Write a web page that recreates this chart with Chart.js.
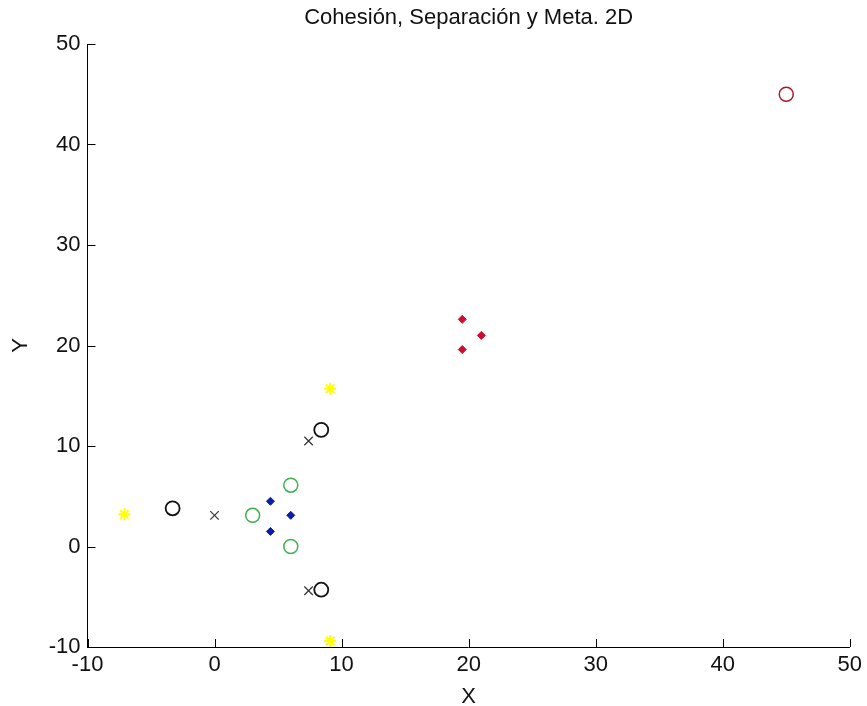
<!DOCTYPE html>
<html>
<head>
<meta charset="utf-8">
<script src="https://cdn.jsdelivr.net/npm/chart.js@4"></script>
<style>
  body { margin: 0; background: #fff; }
</style>
</head>
<body>
<canvas id="grafica" width="867" height="706"></canvas>
<script>
// datos
var xTicks = [-10, 0, 10, 20, 30, 40, 50];
var yTicks = [-10, 0, 10, 20, 30, 40, 50];

var metaX = [45];
var metaY = [45];

var rojoX = [19.5, 21, 19.5];
var rojoY = [22.6, 21, 19.6];

var azulX = [4.4, 6, 4.4];
var azulY = [4.5, 3.1, 1.5];

var verdeX = [6, 3, 6];
var verdeY = [6.1, 3.1, 0];

var negroX = [8.4, -3.3, 8.4];
var negroY = [11.6, 3.8, -4.3];

var cruzX = [7.4, 0, 7.4];
var cruzY = [10.5, 3.1, -4.4];

var estrellaX = [9.1, -7.1, 9.1];
var estrellaY = [15.7, 3.2, -9.4];

function puntos(xs, ys) {
    return xs.map(function (x, i) { return { x: x, y: ys[i] }; });
}

var fuente = "'Liberation Sans', Arial, sans-serif";

// marcas de los ejes hacia adentro, como en MATLAB
var marcasAdentro = {
    id: 'marcasAdentro',
    afterDraw: function (chart) {
        var ctx = chart.ctx;
        var area = chart.chartArea;
        var sx = chart.scales.x;
        var sy = chart.scales.y;
        ctx.save();
        ctx.strokeStyle = '#000';
        ctx.lineWidth = 1;
        ctx.beginPath();
        xTicks.forEach(function (v) {
            var px = Math.round(sx.getPixelForValue(v)) + 0.5;
            ctx.moveTo(px, area.bottom);
            ctx.lineTo(px, area.bottom - 8);
        });
        yTicks.forEach(function (v) {
            var py = Math.round(sy.getPixelForValue(v)) + 0.5;
            ctx.moveTo(area.left, py);
            ctx.lineTo(area.left + 8, py);
        });
        ctx.stroke();
        ctx.restore();
    }
};

var ctx = document.getElementById('grafica').getContext('2d');
var chart = new Chart(ctx, {
    type: 'scatter',
    data: {
        datasets: [{
            label: 'meta',
            data: puntos(metaX, metaY),
            pointStyle: 'circle',
            pointRadius: 7,
            borderColor: '#a81828',
            backgroundColor: 'rgba(0,0,0,0)',
            borderWidth: 1.5
        }, {
            label: 'rojo',
            data: puntos(rojoX, rojoY),
            pointStyle: 'rectRot',
            pointRadius: 4,
            borderColor: '#c8102e',
            backgroundColor: '#c8102e',
            borderWidth: 1
        }, {
            label: 'azul',
            data: puntos(azulX, azulY),
            pointStyle: 'rectRot',
            pointRadius: 4,
            borderColor: '#0a1fa8',
            backgroundColor: '#0a1fa8',
            borderWidth: 1
        }, {
            label: 'verde',
            data: puntos(verdeX, verdeY),
            pointStyle: 'circle',
            pointRadius: 7,
            borderColor: '#3fb04a',
            backgroundColor: 'rgba(0,0,0,0)',
            borderWidth: 1.5
        }, {
            label: 'negro',
            data: puntos(negroX, negroY),
            pointStyle: 'circle',
            pointRadius: 7,
            borderColor: '#111',
            backgroundColor: 'rgba(0,0,0,0)',
            borderWidth: 1.8
        }, {
            label: 'cruz',
            data: puntos(cruzX, cruzY),
            pointStyle: 'crossRot',
            pointRadius: 6,
            borderColor: '#333',
            borderWidth: 1.2
        }, {
            label: 'estrella',
            data: puntos(estrellaX, estrellaY),
            pointStyle: 'star',
            pointRadius: 6,
            borderColor: '#ffff00',
            backgroundColor: '#ffff00',
            borderWidth: 2
        }]
    },
    options: {
        responsive: false,
        animation: false,
        events: [],
        layout: {
            padding: { left: 0, right: 15, top: 0, bottom: 0 }
        },
        plugins: {
            legend: { display: false },
            tooltip: { enabled: false },
            title: {
                display: true,
                fullSize: false,
                text: 'Cohesión, Separación y Meta. 2D',
                color: '#111',
                font: { family: fuente, size: 22, weight: 'normal', lineHeight: 1.2 },
                padding: { top: 5, bottom: 12.6 }
            }
        },
        scales: {
            x: {
                type: 'linear',
                min: -10,
                max: 50,
                afterFit: function (scale) { scale.height = 59; },
                afterBuildTicks: function (scale) {
                    scale.ticks = xTicks.map(function (v) { return { value: v }; });
                },
                grid: { display: false, drawTicks: false },
                border: { display: true, color: '#000', width: 1 },
                ticks: {
                    color: '#111',
                    padding: 5,
                    maxRotation: 0,
                    autoSkip: false,
                    font: { family: fuente, size: 22, lineHeight: 1.2 }
                },
                title: {
                    display: true,
                    text: 'X',
                    color: '#111',
                    font: { family: fuente, size: 22, lineHeight: 0.8 },
                    padding: { top: 0, bottom: 0 }
                }
            },
            y: {
                type: 'linear',
                min: -10,
                max: 50,
                afterFit: function (scale) { scale.width = 87.5; },
                afterBuildTicks: function (scale) {
                    scale.ticks = yTicks.map(function (v) { return { value: v }; });
                },
                grid: { display: false, drawTicks: false },
                border: { display: true, color: '#000', width: 1 },
                ticks: {
                    color: '#111',
                    padding: 7,
                    autoSkip: false,
                    font: { family: fuente, size: 22, lineHeight: 1.2 }
                },
                title: {
                    display: true,
                    text: 'Y',
                    color: '#111',
                    font: { family: fuente, size: 22, lineHeight: 1.2 },
                    padding: { top: 8, bottom: 0 }
                }
            }
        }
    },
    plugins: [marcasAdentro]
});
</script>
</body>
</html>
